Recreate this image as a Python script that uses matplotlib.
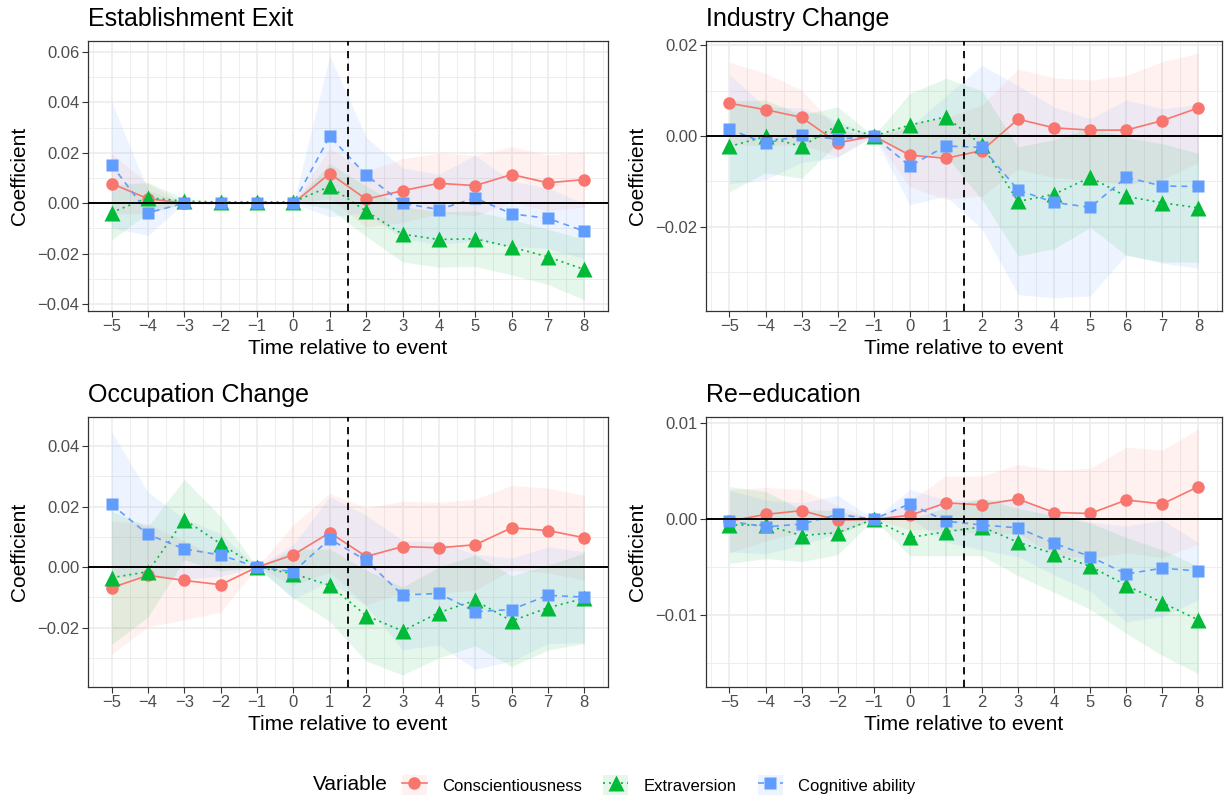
import numpy as np
import matplotlib
matplotlib.use('Agg')
import matplotlib.pyplot as plt
from matplotlib.lines import Line2D
from matplotlib.patches import Patch
from matplotlib.legend_handler import HandlerTuple

plt.rcParams['font.family'] = ['Liberation Sans', 'DejaVu Sans']

periods = np.arange(-5, 9)
series_names = ['Conscientiousness', 'Extraversion', 'Cognitive ability']
series_colors = ['#F8766D', '#00BA38', '#619CFF']

# Establishment exit: coefficients and 95% half-widths
exit_consc = [0.0078, 0.0018, 0.0, 0.0, 0.0, 0.0, 0.0118, 0.0016, 0.0050, 0.0079, 0.0070, 0.0114, 0.0081, 0.0094]
exit_extra = [-0.0037, 0.0022, 0.0008, 0.0005, 0.0005, 0.0005, 0.0067, -0.0032, -0.0123, -0.0144, -0.0141, -0.0174, -0.0213, -0.0263]
exit_cog = [0.0152, -0.0038, 0.0, 0.0, 0.0, 0.0, 0.0266, 0.0112, 0.0, -0.0025, 0.0021, -0.0042, -0.0060, -0.0111]
exit_consc_ci = [0.012, 0.006, 0.0, 0.0, 0.0, 0.0, 0.010, 0.011, 0.0127, 0.012, 0.012, 0.011, 0.011, 0.011]
exit_extra_ci = [0.011, 0.006, 0.001, 0.0, 0.0, 0.0, 0.009, 0.010, 0.011, 0.011, 0.011, 0.011, 0.011, 0.012]
exit_cog_ci = [0.025, 0.009, 0.0, 0.0, 0.0, 0.0, 0.032, 0.015, 0.014, 0.014, 0.017, 0.013, 0.012, 0.011]

# Industry change
ind_consc = [0.0072, 0.0058, 0.0041, -0.0015, 0.0, -0.0042, -0.0049, -0.0032, 0.0037, 0.0018, 0.0013, 0.0013, 0.0034, 0.0062]
ind_extra = [-0.0023, -0.0001, -0.0023, 0.0024, 0.0, 0.0024, 0.0042, -0.0020, -0.0144, -0.0128, -0.0091, -0.0133, -0.0147, -0.0158]
ind_cog = [0.0015, -0.0016, 0.0002, -0.0007, 0.0, -0.0066, -0.0022, -0.0025, -0.0119, -0.0146, -0.0157, -0.0091, -0.0110, -0.0111]
ind_consc_ci = [0.009, 0.008, 0.006, 0.003, 0.0, 0.007, 0.009, 0.010, 0.011, 0.011, 0.011, 0.012, 0.013, 0.012]
ind_extra_ci = [0.010, 0.008, 0.007, 0.004, 0.0, 0.007, 0.0085, 0.012, 0.012, 0.012, 0.011, 0.013, 0.013, 0.012]
ind_cog_ci = [0.012, 0.008, 0.006, 0.004, 0.0, 0.0085, 0.011, 0.018, 0.023, 0.021, 0.0195, 0.017, 0.017, 0.018]

# Occupation change
occ_consc = [-0.0068, -0.0027, -0.0044, -0.0058, 0.0, 0.0041, 0.0114, 0.0035, 0.0068, 0.0064, 0.0074, 0.0130, 0.0121, 0.0097]
occ_extra = [-0.0035, -0.0015, 0.0157, 0.0077, 0.0, -0.0022, -0.0060, -0.0160, -0.0211, -0.0150, -0.0110, -0.0178, -0.0134, -0.0103]
occ_cog = [0.0207, 0.0108, 0.0060, 0.0040, 0.0, -0.0015, 0.0093, 0.0022, -0.0092, -0.0087, -0.0147, -0.0140, -0.0093, -0.0099]
occ_consc_ci = [0.022, 0.017, 0.013, 0.009, 0.0, 0.010, 0.013, 0.016, 0.015, 0.015, 0.015, 0.014, 0.014, 0.014]
occ_extra_ci = [0.022, 0.015, 0.0133, 0.009, 0.0, 0.008, 0.012, 0.015, 0.0145, 0.015, 0.015, 0.015, 0.014, 0.015]
occ_cog_ci = [0.024, 0.014, 0.010, 0.007, 0.0, 0.009, 0.014, 0.015, 0.018, 0.017, 0.019, 0.017, 0.016, 0.015]

# Re-education
edu_consc = [-0.0002, 0.0005, 0.0009, -0.0001, 0.0, 0.0004, 0.0017, 0.0015, 0.0021, 0.0007, 0.0006, 0.0020, 0.0016, 0.0034]
edu_extra = [-0.0006, -0.0006, -0.0017, -0.0014, 0.0, -0.0019, -0.0013, -0.0008, -0.0024, -0.0036, -0.0049, -0.0069, -0.0087, -0.0105]
edu_cog = [-0.0002, -0.0008, -0.0005, 0.0005, 0.0, 0.0016, -0.0002, -0.0006, -0.0009, -0.0025, -0.0039, -0.0057, -0.0051, -0.0054]
edu_consc_ci = [0.0033, 0.0028, 0.0022, 0.0015, 0.0, 0.0015, 0.0028, 0.0030, 0.0036, 0.0044, 0.0047, 0.0055, 0.0056, 0.0060]
edu_extra_ci = [0.0040, 0.0035, 0.0027, 0.0023, 0.0, 0.0019, 0.0025, 0.0030, 0.0035, 0.0040, 0.0045, 0.0050, 0.0055, 0.0056]
edu_cog_ci = [0.0032, 0.0028, 0.0022, 0.0020, 0.0, 0.0015, 0.0022, 0.0026, 0.0030, 0.0033, 0.0036, 0.0050, 0.0050, 0.0030]

panels = [
    ('Establishment Exit', [exit_consc, exit_extra, exit_cog], [exit_consc_ci, exit_extra_ci, exit_cog_ci],
     (-0.0428, 0.0644), [-0.04, -0.02, 0.0, 0.02, 0.04, 0.06], [-0.03, -0.01, 0.01, 0.03, 0.05]),
    ('Industry Change', [ind_consc, ind_extra, ind_cog], [ind_consc_ci, ind_extra_ci, ind_cog_ci],
     (-0.0385, 0.0209), [-0.02, 0.0, 0.02], [-0.03, -0.01, 0.01]),
    ('Occupation Change', [occ_consc, occ_extra, occ_cog], [occ_consc_ci, occ_extra_ci, occ_cog_ci],
     (-0.0396, 0.0496), [-0.02, 0.0, 0.02, 0.04], [-0.03, -0.01, 0.01, 0.03]),
    ('Re\u2212education', [edu_consc, edu_extra, edu_cog], [edu_consc_ci, edu_extra_ci, edu_cog_ci],
     (-0.01748, 0.01065), [-0.01, 0.0, 0.01], [-0.015, -0.005, 0.005]),
]

line_styles = ['-', (0, (1.2, 2.4)), (0, (3.6, 3.0))]
markers = ['o', '^', 's']
marker_sizes = [9, 11, 9]


def fmt(v):
    s = f'{v:.2f}' if isinstance(v, float) else str(v)
    return s.replace('-', '\u2212')


def draw_panel(ax, title, coefs, cis, ylim, yticks, yminor):
    for coef, ci, col in zip(coefs, cis, series_colors):
        coef = np.array(coef)
        ci = np.array(ci)
        ax.fill_between(periods, coef - ci, coef + ci, color=col, alpha=0.1, lw=0, zorder=1)
    for coef, col, ls in zip(coefs, series_colors, line_styles):
        ax.plot(periods, coef, color=col, ls=ls, lw=1.2, zorder=3)
    for coef, col, mk, ms in zip(coefs, series_colors, markers, marker_sizes):
        ax.plot(periods, coef, ls='none', marker=mk, ms=ms, color=col, mec='none', zorder=4)
    ax.axhline(0, color='black', lw=1.4, zorder=5)
    ax.axvline(1.5, color='black', lw=1.3, ls=(0, (4, 3)), zorder=5)

    ax.set_xlim(-5.65, 8.65)
    ax.set_ylim(*ylim)
    ax.set_xticks(periods)
    ax.set_xticklabels([fmt(int(p)) for p in periods])
    ax.set_xticks(np.arange(-5.5, 9.0, 1.0), minor=True)
    ax.set_yticks(yticks)
    ax.set_yticklabels([fmt(float(t)) for t in yticks])
    ax.set_yticks(yminor, minor=True)
    ax.grid(which='major', color='#EBEBEB', lw=1.1)
    ax.grid(which='minor', color='#EBEBEB', lw=0.6)
    ax.set_axisbelow(True)
    ax.tick_params(which='major', length=4, width=0.8, color='#333333',
                   labelsize=12, labelcolor='#4D4D4D', pad=2)
    ax.tick_params(which='minor', length=0)
    for sp in ax.spines.values():
        sp.set_color('#333333')
        sp.set_linewidth(0.9)
    ax.set_title(title, loc='left', fontsize=18, pad=10.5)
    ax.set_xlabel('Time relative to event', fontsize=15, labelpad=3.5)
    ax.set_ylabel('Coefficient', fontsize=15, labelpad=6)


fig = plt.figure(figsize=(12.25, 8.01), dpi=100)
boxes = [
    [0.0718, 0.6117, 0.4245, 0.3371],
    [0.5763, 0.6117, 0.4212, 0.3371],
    [0.0718, 0.1423, 0.4245, 0.3371],
    [0.5763, 0.1423, 0.4212, 0.3371],
]
for box, (title, coefs, cis, ylim, yticks, yminor) in zip(boxes, panels):
    ax = fig.add_axes(box)
    draw_panel(ax, title, coefs, cis, ylim, yticks, yminor)

handles = []
for col, ls, mk, ms in zip(series_colors, line_styles, markers, marker_sizes):
    bg = Patch(facecolor=col, alpha=0.1, edgecolor='none')
    ln = Line2D([], [], color=col, ls=ls, lw=1.2, marker=mk, ms=ms, mec='none')
    handles.append((bg, ln))

fig.legend(handles, series_names, handler_map={tuple: HandlerTuple(ndivide=1, pad=0)},
           loc='center', bbox_to_anchor=(0.5375, 0.02), ncol=3, frameon=False,
           fontsize=12, handlelength=1.5, handleheight=1.45, handletextpad=0.9,
           columnspacing=1.3, borderaxespad=0, borderpad=0)
fig.text(313 / 1225, 0.02, 'Variable', fontsize=15, ha='left', va='center')

fig.savefig('out.png', dpi=100)
